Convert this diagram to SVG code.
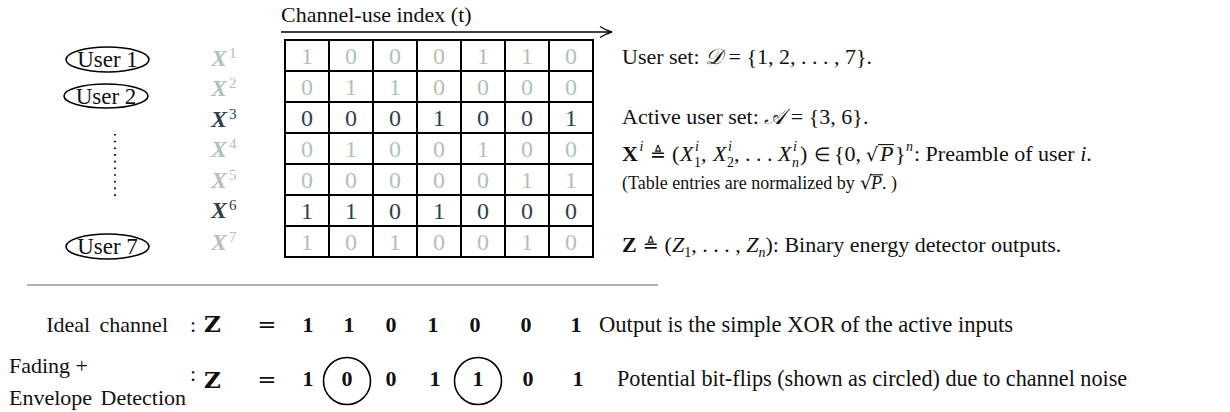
<svg xmlns="http://www.w3.org/2000/svg" width="1230" height="412" viewBox="0 0 1230 412">
<style>
.t{font-family:"Liberation Serif","Times New Roman",serif;font-size:22px;fill:#111}
.u{font-family:"Liberation Serif",serif;font-size:23px;fill:#111;text-anchor:middle}
.ell{fill:none;stroke:#000;stroke-width:1.6}
.xl{font-family:"Liberation Serif",serif;font-size:24px;font-weight:bold;font-style:italic}
.xs{font-size:15px;font-weight:normal;font-style:normal}
.lt{fill:#b3c1b6}
.dk{fill:#2f3f4f}
.d{font-family:"Liberation Serif",serif;font-size:24px;text-anchor:middle}
.grid{fill:none;stroke:#000;stroke-width:2}
.b{font-family:"Liberation Serif",serif;font-size:22px;font-weight:bold;fill:#111;text-anchor:middle}
.bz{font-family:"DejaVu Serif",serif;font-size:23px;font-weight:bold;fill:#111}
.eq{font-family:"DejaVu Serif",serif;font-size:23px;fill:#111;text-anchor:middle}
.i{font-style:italic}
.sm{font-size:14px}
.sym{font-family:"DejaVu Sans",sans-serif;font-size:19px}
.note{font-size:18px}
.circ{fill:none;stroke:#000;stroke-width:1.6}
.ov{stroke:#111;stroke-width:1.1}
</style>
<defs>
<marker id="arr" markerWidth="16" markerHeight="14" refX="14" refY="7" orient="auto" markerUnits="userSpaceOnUse">
<path d="M2,1.5 Q8,5.5 14,7 Q8,8.5 2,12.5" fill="none" stroke="#000" stroke-width="1.4"/>
</marker>
</defs>

<g id="connectors">
<line x1="281" y1="32" x2="612" y2="32" stroke="#000" stroke-width="1.5" marker-end="url(#arr)"/>
</g>
<g id="axis-label"><text class="t" x="281" y="22">Channel-use index (t)</text></g>

<g id="user1"><ellipse class="ell" cx="107.5" cy="59.5" rx="41.5" ry="12.5"/><text class="u" x="107.5" y="67">User 1</text></g>
<g id="user2"><ellipse class="ell" cx="106" cy="96" rx="42" ry="12"/><text class="u" x="106" y="103.5">User 2</text></g>
<g id="user-dots"><line x1="115" y1="134" x2="115" y2="200" stroke="#000" stroke-width="1.8" stroke-dasharray="1.6 5.1"/></g>
<g id="user7"><ellipse class="ell" cx="107.5" cy="246.5" rx="41.5" ry="12.5"/><text class="u" x="107.5" y="254">User 7</text></g>

<g id="xlabels">
<text class="xl lt" x="211" y="66">X<tspan class="xs" dy="-8" dx="2">1</tspan></text>
<text class="xl lt" x="211" y="96">X<tspan class="xs" dy="-8" dx="2">2</tspan></text>
<text class="xl dk" x="211" y="127">X<tspan class="xs" dy="-8" dx="2">3</tspan></text>
<text class="xl lt" x="211" y="157">X<tspan class="xs" dy="-8" dx="2">4</tspan></text>
<text class="xl lt" x="211" y="188">X<tspan class="xs" dy="-8" dx="2">5</tspan></text>
<text class="xl dk" x="211" y="218">X<tspan class="xs" dy="-8" dx="2">6</tspan></text>
<text class="xl lt" x="211" y="250">X<tspan class="xs" dy="-8" dx="2">7</tspan></text>
</g>

<g id="table">
<rect class="grid" x="285" y="40" width="308" height="217"/>
<path class="grid" d="M329,40V257M373,40V257M417,40V257M461,40V257M505,40V257M549,40V257M285,71H593M285,102H593M285,133H593M285,164H593M285,195H593M285,226H593"/>
<g id="row1" class="d lt"><text x="307" y="63.5">1</text><text x="351" y="63.5">0</text><text x="395" y="63.5">0</text><text x="439" y="63.5">0</text><text x="483" y="63.5">1</text><text x="527" y="63.5">1</text><text x="571" y="63.5">0</text></g>
<g id="row2" class="d lt"><text x="307" y="94.5">0</text><text x="351" y="94.5">1</text><text x="395" y="94.5">1</text><text x="439" y="94.5">0</text><text x="483" y="94.5">0</text><text x="527" y="94.5">0</text><text x="571" y="94.5">0</text></g>
<g id="row3" class="d dk"><text x="307" y="125.5">0</text><text x="351" y="125.5">0</text><text x="395" y="125.5">0</text><text x="439" y="125.5">1</text><text x="483" y="125.5">0</text><text x="527" y="125.5">0</text><text x="571" y="125.5">1</text></g>
<g id="row4" class="d lt"><text x="307" y="156.5">0</text><text x="351" y="156.5">1</text><text x="395" y="156.5">0</text><text x="439" y="156.5">0</text><text x="483" y="156.5">1</text><text x="527" y="156.5">0</text><text x="571" y="156.5">0</text></g>
<g id="row5" class="d lt"><text x="307" y="187.5">0</text><text x="351" y="187.5">0</text><text x="395" y="187.5">0</text><text x="439" y="187.5">0</text><text x="483" y="187.5">0</text><text x="527" y="187.5">1</text><text x="571" y="187.5">1</text></g>
<g id="row6" class="d dk"><text x="307" y="218.5">1</text><text x="351" y="218.5">1</text><text x="395" y="218.5">0</text><text x="439" y="218.5">1</text><text x="483" y="218.5">0</text><text x="527" y="218.5">0</text><text x="571" y="218.5">0</text></g>
<g id="row7" class="d lt"><text x="307" y="249.5">1</text><text x="351" y="249.5">0</text><text x="395" y="249.5">1</text><text x="439" y="249.5">0</text><text x="483" y="249.5">0</text><text x="527" y="249.5">1</text><text x="571" y="249.5">0</text></g>
</g>

<g id="user-set"><text class="t" x="622" y="64">User set: <tspan font-family="DejaVu Serif" font-style="italic">𝒟</tspan> = {1, 2, . . . , 7}.</text></g>
<g id="active-set"><text class="t" x="622" y="124">Active user set: <tspan font-family="DejaVu Serif" font-style="italic">𝒜</tspan> = {3, 6}.</text></g>

<g id="preamble-def">
<text class="t" y="161"><tspan x="622" font-weight="bold">X</tspan><tspan x="639.5" y="151" class="sm i">i</tspan><tspan x="650" y="161" class="sym">≜</tspan><tspan x="672">(</tspan><tspan x="680" class="i">X</tspan><tspan x="695" y="151" class="sm i">i</tspan><tspan x="694" y="166.5" class="sm">1</tspan><tspan x="701" y="161">,</tspan><tspan x="713" class="i">X</tspan><tspan x="728" y="151" class="sm i">i</tspan><tspan x="727" y="166.5" class="sm">2</tspan><tspan x="734" y="161">,</tspan><tspan x="745">. . .</tspan><tspan x="778" class="i">X</tspan><tspan x="793" y="151" class="sm i">i</tspan><tspan x="792" y="166.5" class="sm i">n</tspan><tspan x="800" y="161">)</tspan><tspan x="814" class="sym" font-size="21">∈</tspan><tspan x="834">{0,</tspan><tspan x="866" class="sym" font-size="21">√</tspan><tspan x="880" class="i">P</tspan><tspan x="895">}</tspan><tspan x="906" y="151" class="sm i">n</tspan><tspan x="914" y="161">: Preamble of user </tspan><tspan class="i">i</tspan><tspan>.</tspan></text>
<line class="ov" x1="878" y1="144.6" x2="894" y2="144.6"/>
</g>
<g id="normalization-note">
<text class="t note" y="189"><tspan x="622">(Table entries are normalized by</tspan><tspan x="860" class="sym" font-size="17">√</tspan><tspan x="871" class="i">P</tspan><tspan>. )</tspan></text>
<line class="ov" x1="870" y1="174.8" x2="883" y2="174.8" stroke-width="1"/>
</g>
<g id="z-def"><text class="t" x="622" y="252"><tspan font-weight="bold">Z</tspan><tspan dx="6" class="sym">≜</tspan><tspan dx="6">(</tspan><tspan class="i">Z</tspan><tspan class="sm" dy="5">1</tspan><tspan dy="-5">, . . . , </tspan><tspan class="i">Z</tspan><tspan class="sm i" dy="5">n</tspan><tspan dy="-5">): Binary energy detector outputs.</tspan></text></g>

<g id="separator"><line x1="27" y1="285" x2="658" y2="285" stroke="#9a9a9a" stroke-width="1.5"/></g>

<g id="ideal-row">
<text class="t" x="168" y="332" text-anchor="end" word-spacing="4">Ideal channel</text>
<text class="t" x="193" y="332" text-anchor="middle">:</text>
<text class="bz" x="204" y="332">Z</text>
<text class="eq" x="267" y="332">=</text>
<text class="b" x="308" y="332">1</text><text class="b" x="349" y="332">1</text><text class="b" x="391" y="332">0</text><text class="b" x="433" y="332">1</text><text class="b" x="475" y="332">0</text><text class="b" x="526" y="332">0</text><text class="b" x="576" y="332">1</text>
<text class="t" x="599" y="332" style="font-size:22.6px">Output is the simple XOR of the active inputs</text>
</g>

<g id="fading-row">
<text class="t" x="9" y="373">Fading +</text>
<text class="t" x="9" y="405" word-spacing="3">Envelope Detection</text>
<text class="t" x="193" y="381" text-anchor="middle">:</text>
<text class="bz" x="204" y="388">Z</text>
<text class="eq" x="267" y="387">=</text>
<text class="b" x="308" y="386">1</text><text class="b" x="347" y="386">0</text><text class="b" x="391" y="386">0</text><text class="b" x="435" y="386">1</text><text class="b" x="478" y="386">1</text><text class="b" x="528" y="386">0</text><text class="b" x="578" y="386">1</text>
<circle class="circ" cx="347" cy="381" r="23.5"/>
<circle class="circ" cx="478" cy="381" r="23.5"/>
<text class="t" x="617" y="386" style="font-size:22.2px">Potential bit-flips (shown as circled) due to channel noise</text>
</g>
</svg>
